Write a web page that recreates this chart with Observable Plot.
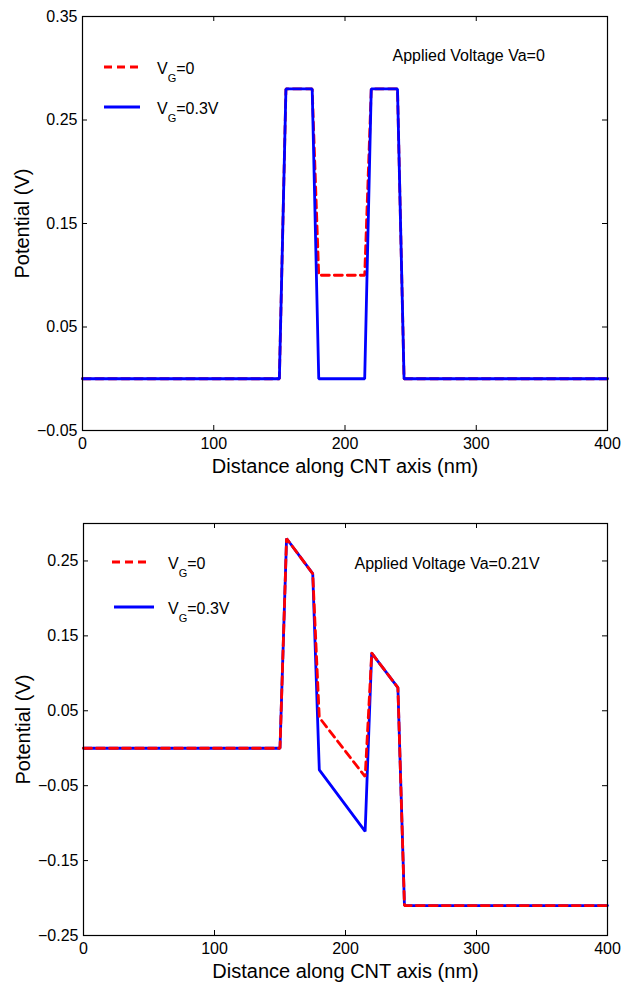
<!DOCTYPE html>
<html>
<head>
<meta charset="utf-8">
<script src="https://cdn.jsdelivr.net/npm/d3@7"></script>
<script src="https://cdn.jsdelivr.net/npm/@observablehq/plot@0.6"></script>
<style>
  html, body { margin: 0; padding: 0; background: #fff; }
  #chart { position: relative; width: 631px; height: 982px; background: #fff; }
  #chart svg { position: absolute; left: 0; }
</style>
</head>
<body>
<div id="chart"></div>
<script>
// ---------- data ----------
const xNodes = [0, 150, 155, 175, 180, 215, 220, 240, 245, 400];          // nm
// Panel 1: applied voltage Va = 0
const va0_vg0  = [0, 0, 0.28, 0.28, 0.10, 0.10, 0.28, 0.28, 0, 0];
const va0_vg03 = [0, 0, 0.28, 0.28, 0.00, 0.00, 0.28, 0.28, 0, 0];
// Panel 2: applied voltage Va = 0.21 V
const va021_vg0  = [0, 0, 0.28, 0.233, 0.041, -0.038, 0.127, 0.081, -0.21, -0.21];
const va021_vg03 = [0, 0, 0.28, 0.233, -0.029, -0.111, 0.127, 0.081, -0.21, -0.21];

const xTicks = [0, 100, 200, 300, 400];
const yTicksTop = [-0.05, 0.05, 0.15, 0.25, 0.35];
const yTicksBottom = [-0.25, -0.15, -0.05, 0.05, 0.15, 0.25];
const seriesNames = ["=0", "=0.3V"];
const annotations = ["Applied Voltage Va=0", "Applied Voltage Va=0.21V"];
const xLabel = "Distance along CNT axis (nm)";
const yLabel = "Potential (V)";

const FONT = "'Liberation Sans', Arial, Helvetica, sans-serif";
const RED = "#ff0000", BLUE = "#0000ff";
const LW = 2.8;

function toRows(ys) { return xNodes.map((x, i) => ({x, y: ys[i]})); }

function panel({height, mt, mb, ml, mr, yDomain, yTicks, series, note, noteDx, noteDy, legend}) {
  const W = 631 - ml - mr, H = height - mt - mb;
  const lineMarks = series.map(s => Plot.line(toRows(s.values), {
    x: "x", y: "y", stroke: s.color, strokeWidth: LW,
    strokeDasharray: s.dash ? "8,5" : null, strokeLinejoin: "miter"
  }));
  const svg = Plot.plot({
    width: 631, height,
    marginLeft: ml, marginRight: mr, marginTop: mt, marginBottom: mb,
    style: {fontFamily: FONT, fontSize: "16px", background: "#fff", color: "#000", overflow: "visible"},
    x: {domain: [0, 400]},
    y: {domain: yDomain},
    marks: [
      Plot.axisX({ticks: xTicks, tickSize: 0, tickPadding: 7, tickFormat: d3.format("d"), label: null, fontSize: 16}),
      Plot.axisY({ticks: yTicks, tickSize: 0, tickPadding: 5, tickFormat: d3.format(".2f"), label: null, fontSize: 16}),
      // inward ticks on all four sides
      Plot.tickX(xTicks, {x: d => d, insetTop: H - 5, stroke: "#000"}),
      Plot.tickX(xTicks, {x: d => d, insetBottom: H - 5, stroke: "#000"}),
      Plot.tickY(yTicks, {y: d => d, insetRight: W - 5, stroke: "#000"}),
      Plot.tickY(yTicks, {y: d => d, insetLeft: W - 5, stroke: "#000"}),
      ...lineMarks,
      Plot.frame({stroke: "#000", strokeWidth: 1.2}),
      Plot.text([note], {frameAnchor: "top-left", dx: noteDx, dy: noteDy, textAnchor: "start", lineAnchor: "middle", fontSize: 16, fill: "#000"}),
      Plot.text([xLabel], {frameAnchor: "bottom", dy: 36, lineAnchor: "middle", fontSize: 20, fill: "#000"}),
      Plot.text([yLabel], {frameAnchor: "left", dx: -60, rotate: -90, lineAnchor: "middle", textAnchor: "middle", fontSize: 20, fill: "#000"})
    ]
  });
  // legend (line sample + V_G label with subscript)
  const g = d3.select(svg).append("g").attr("font-family", FONT).attr("fill", "#000").attr("text-anchor", "start");
  legend.forEach((it) => {
    const s = series.find(d => d.name === it.name);
    g.append("line").attr("x1", it.x1).attr("x2", it.x2).attr("y1", it.y).attr("y2", it.y)
      .attr("stroke", s.color).attr("stroke-width", LW)
      .attr("stroke-dasharray", s.dash ? "8,5" : null);
    const t = g.append("text").attr("x", it.tx).attr("y", it.y + 7).attr("font-size", 16).attr("text-anchor", "start");
    t.append("tspan").text("V");
    t.append("tspan").attr("font-size", 11).attr("dy", 8).text("G");
    t.append("tspan").attr("dy", -8).text(it.name);
  });
  return svg;
}

const chart = document.getElementById("chart");

const top1 = panel({
  height: 480, mt: 16, mb: 50, ml: 82, mr: 24,
  yDomain: [-0.05, 0.35], yTicks: yTicksTop,
  series: [
    {name: seriesNames[0], values: va0_vg0, color: RED, dash: true},
    {name: seriesNames[1], values: va0_vg03, color: BLUE, dash: false}
  ],
  note: annotations[0], noteDx: 310, noteDy: 39,
  legend: [
    {name: seriesNames[0], x1: 104, x2: 140, y: 67, tx: 157},
    {name: seriesNames[1], x1: 104, x2: 140, y: 107, tx: 157}
  ]
});
top1.style.top = "0px";
chart.appendChild(top1);

const bot = panel({
  height: 502, mt: 43, mb: 47, ml: 83, mr: 24,
  yDomain: [-0.25, 0.30], yTicks: yTicksBottom,
  series: [
    {name: seriesNames[1], values: va021_vg03, color: BLUE, dash: false},
    {name: seriesNames[0], values: va021_vg0, color: RED, dash: true}
  ],
  note: annotations[1], noteDx: 271, noteDy: 40,
  legend: [
    {name: seriesNames[0], x1: 112, x2: 148, y: 82, tx: 168},
    {name: seriesNames[1], x1: 114, x2: 154, y: 127, tx: 168}
  ]
});
bot.style.top = "480px";
chart.appendChild(bot);
</script>
</body>
</html>
